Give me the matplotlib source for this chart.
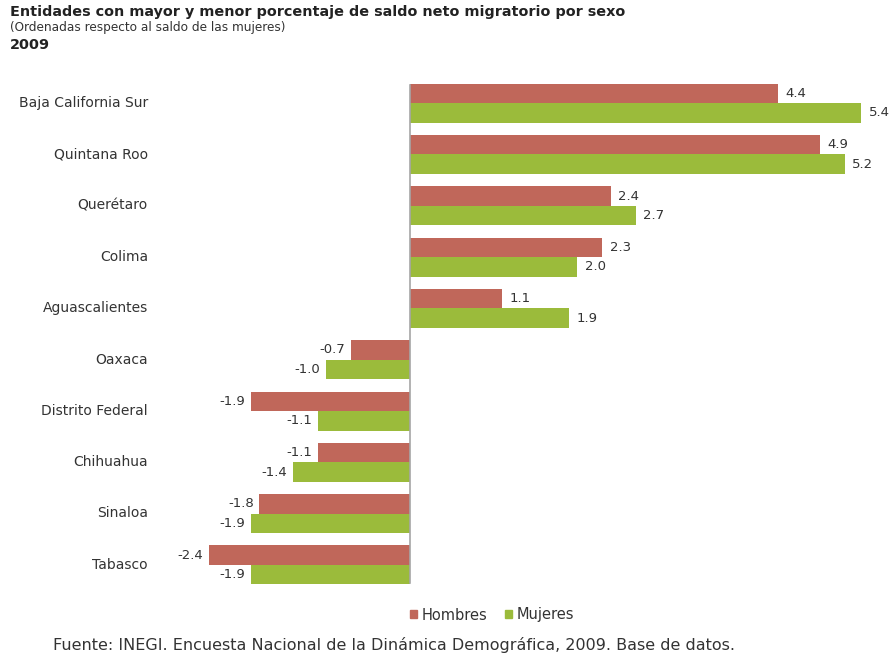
import numpy as np
import matplotlib
matplotlib.use("Agg")
import matplotlib.pyplot as plt
from matplotlib.patches import Patch

plt.rcParams['font.family'] = ['DejaVu Sans']

entidades = ["Baja California Sur", "Quintana Roo", "Querétaro", "Colima",
             "Aguascalientes", "Oaxaca", "Distrito Federal", "Chihuahua",
             "Sinaloa", "Tabasco"]
hombres = [4.4, 4.9, 2.4, 2.3, 1.1, -0.7, -1.9, -1.1, -1.8, -2.4]
mujeres = [5.4, 5.2, 2.7, 2.0, 1.9, -1.0, -1.1, -1.4, -1.9, -1.9]

c_hom = '#c0675a'
c_muj = '#9bbb3b'
txt = '#333333'


def add_labels(ax, ys, vals):
    for y, v in zip(ys, vals):
        if v >= 0:
            ax.text(v + 0.09, y, f'{v:.1f}', ha='left', va='center',
                    fontsize=9.5, color=txt)
        else:
            ax.text(v - 0.07, y, f'{v:.1f}', ha='right', va='center',
                    fontsize=9.5, color=txt)


fig = plt.figure(figsize=(8.95, 6.57), dpi=100)
ax = fig.add_axes([0.19, 0.101, 0.793, 0.781])

y = np.arange(len(entidades))
h = 0.38
ax.barh(y - h / 2, hombres, height=h, color=c_hom)
ax.barh(y + h / 2, mujeres, height=h, color=c_muj)
add_labels(ax, y - h / 2, hombres)
add_labels(ax, y + h / 2, mujeres)

ax.axvline(0, ymin=0.015, ymax=0.985, color='#a6a6a6', lw=1.2)
ax.set_xlim(-2.87, 5.62)
ax.set_ylim(len(entidades) - 0.5, -0.5)
ax.set_xticks([])
ax.set_yticks([])
for s in ax.spines.values():
    s.set_visible(False)

for yi, name in zip(y, entidades):
    fig.text(148 / 895, 1 - (103 + yi * 51.3) / 657, name, ha='right',
             va='center', fontsize=10, color=txt)

fig.text(10 / 895, 1 - 12 / 657,
         'Entidades con mayor y menor porcentaje de saldo neto migratorio por sexo',
         ha='left', va='center', fontsize=10.4, fontweight='bold', color='#222222')
fig.text(10 / 895, 1 - 28 / 657, '(Ordenadas respecto al saldo de las mujeres)',
         ha='left', va='center', fontsize=8.7, color='#333333')
fig.text(10 / 895, 1 - 45 / 657, '2009', ha='left', va='center',
         fontsize=10.4, fontweight='bold', color='#222222')

handles = [Patch(color=c_hom, label='Hombres'), Patch(color=c_muj, label='Mujeres')]
fig.legend(handles=handles, loc='center', bbox_to_anchor=(492 / 895, 1 - 615 / 657),
           ncol=2, frameon=False, fontsize=10.5, handlelength=0.5, handleheight=0.5,
           handletextpad=0.3, columnspacing=1.2, labelcolor=txt)

fig.text(53 / 895, 1 - 645 / 657,
         'Fuente: INEGI. Encuesta Nacional de la Dinámica Demográfica, 2009. Base de datos.',
         ha='left', va='center', fontsize=11.5, color=txt)

fig.savefig('out.png', dpi=100)
